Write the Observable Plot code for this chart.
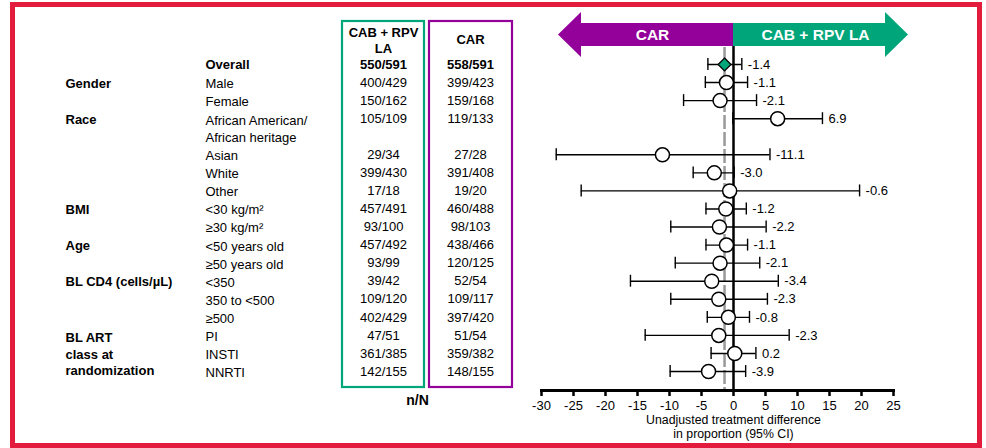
<!DOCTYPE html>
<html>
<head>
<meta charset="utf-8">
<script src="https://cdn.jsdelivr.net/npm/d3@7"></script>
<script src="https://cdn.jsdelivr.net/npm/@observablehq/plot@0.6"></script>
<style>
  html, body { margin: 0; padding: 0; background: #fff; }
  #wrap { position: relative; width: 986px; height: 448px; overflow: hidden; background: #fff; }
  #border { position: absolute; left: 10px; top: 2px; width: 972px; height: 446px; border: 5px solid #e31b3c; box-sizing: border-box; pointer-events: none; }
  svg { font-family: "Liberation Sans", Arial, sans-serif; }
</style>
</head>
<body>
<div id="wrap"><div id="chart"></div><div id="border"></div></div>
<script>
// ---- data ----
const subgroups = ["Overall", "Male", "Female", "African American/\nAfrican heritage", "Asian", "White", "Other",
  "<30 kg/m²", "≥30 kg/m²", "<50 years old", "≥50 years old", "<350", "350 to <500", "≥500", "PI", "INSTI", "NNRTI"];
const groups = ["", "Gender", "Gender", "Race", "Race", "Race", "Race", "BMI", "BMI", "Age", "Age",
  "BL CD4 (cells/µL)", "BL CD4 (cells/µL)", "BL CD4 (cells/µL)",
  "BL ART\nclass at\nrandomization", "BL ART\nclass at\nrandomization", "BL ART\nclass at\nrandomization"];
const cabCounts = ["550/591", "400/429", "150/162", "105/109", "29/34", "399/430", "17/18", "457/491", "93/100",
  "457/492", "93/99", "39/42", "109/120", "402/429", "47/51", "361/385", "142/155"];
const carCounts = ["558/591", "399/423", "159/168", "119/133", "27/28", "391/408", "19/20", "460/488", "98/103",
  "438/466", "120/125", "52/54", "109/117", "397/420", "51/54", "359/382", "148/155"];
const estimate = [-1.4, -1.1, -2.1, 6.9, -11.1, -3.0, -0.6, -1.2, -2.2, -1.1, -2.1, -3.4, -2.3, -0.8, -2.3, 0.2, -3.9];
const ciLow  = [-4.0, -4.4, -7.8, -0.1, -27.7, -6.3, -23.8, -4.3, -9.8, -4.3, -9.1, -16.1, -9.8, -4.1, -13.8, -3.5, -9.9];
const ciHigh = [1.3, 2.2, 3.6, 13.9, 5.7, 0.1, 19.7, 2.0, 5.1, 2.2, 4.1, 7.0, 5.3, 2.5, 8.7, 3.5, 1.9];
const xTicks = [-30, -25, -20, -15, -10, -5, 0, 5, 10, 15, 20, 25];
const colHeaders = ["CAB + RPV\nLA", "CAR"];
const arrowLabels = ["CAR", "CAB + RPV LA"];
const axisTitle = ["Unadjusted treatment difference", "in proportion (95% CI)"];
const countsLabel = "n/N";

// ---- build table (row = vertical slot, multi-line labels take extra slots) ----
let slot = 0;
const rows = subgroups.map((s, i) => {
  const lines = s.split("\n").length;
  const r = {i, sub: s, lines, group: groups[i], cab: cabCounts[i], car: carCounts[i],
    est: estimate[i], lo: ciLow[i], hi: ciHigh[i], row: slot};
  slot += lines;
  return r;
});
const groupLabels = [];
for (const r of rows) {
  if (!r.group) continue;
  const g = groupLabels.find(d => d.text === r.group);
  if (g) g.last = r.row; else groupLabels.push({text: r.group, first: r.row, last: r.row});
}
groupLabels.forEach(g => { const n = g.text.split("\n").length; g.y = n > 1 ? (g.first + g.last) / 2 : g.first; });

// ---- layout ----
const W = 986, H = 448, ML = 541, MR = 93, MB = 58;
const green = "#00a67a", purple = "#94009a";
const pxPerUnit = (W - ML - MR) / 55;
const px2x = p => (p - ML) / pxPerUnit - 30;
const rowTop = 64, rowStep = 18.06;
const px2row = p => (p - rowTop) / rowStep;
const colGroup = 65 - ML, colSub = 205 - ML, colCab = 383 - ML, colCar = 470 - ML;

const cy = px2row(34.5), hh = 22.5 / rowStep, bh = 11.5 / rowStep;
const tip = px2x(908), hb = px2x(885);
const carArrow = [{x: -tip, y1: cy, y2: cy}, {x: -hb, y1: cy - hh, y2: cy + hh}, {x: -hb, y1: cy - bh, y2: cy + bh}, {x: 0, y1: cy - bh, y2: cy + bh}];
const cabArrow = [{x: 0, y1: cy - bh, y2: cy + bh}, {x: hb, y1: cy - bh, y2: cy + bh}, {x: hb, y1: cy - hh, y2: cy + hh}, {x: tip, y1: cy, y2: cy}];
const boxes = [
  {x1: px2x(342), x2: px2x(424), stroke: green},
  {x1: px2x(429), x2: px2x(512), stroke: purple}
];
const boxY1 = px2row(21), boxY2 = px2row(387);

const overall = rows.filter(d => d.i === 0);
const others = rows.filter(d => d.i !== 0);
const fmt = v => v.toFixed(1);

const chart = Plot.plot({
  width: W, height: H,
  marginLeft: ML, marginRight: MR, marginTop: 0, marginBottom: MB,
  x: {domain: [-30, 25]},
  y: {domain: [0, 17], range: [rowTop, rowTop + 17 * rowStep], axis: null},
  style: {fontFamily: "'Liberation Sans', Arial, sans-serif", fontSize: "13px", overflow: "visible", background: "#fff", color: "#000"},
  marks: [
    // column boxes
    Plot.rect(boxes, {x1: "x1", x2: "x2", y1: () => boxY1, y2: () => boxY2, fill: "none", stroke: "stroke", strokeWidth: 2.2}),
    // direction arrows
    Plot.areaY(carArrow, {x: "x", y1: "y1", y2: "y2", fill: purple, curve: "linear"}),
    Plot.areaY(cabArrow, {x: "x", y1: "y1", y2: "y2", fill: green, curve: "linear"}),
    Plot.text([arrowLabels[0]], {x: () => px2x(652), y: () => cy, text: d => d, fill: "white", fontWeight: "bold", fontSize: 15.5}),
    Plot.text([arrowLabels[1]], {x: () => px2x(815), y: () => cy, text: d => d, fill: "white", fontWeight: "bold", fontSize: 15.5}),
    // reference lines
    Plot.ruleX([estimate[0]], {insetTop: 47, stroke: "#999", strokeWidth: 2.5, strokeDasharray: "14,3"}),
    Plot.ruleX([0], {insetTop: 46, stroke: "#000", strokeWidth: 2.5}),
    // confidence intervals
    Plot.ruleY(rows, {y: "row", x1: "lo", x2: "hi", stroke: "#000", strokeWidth: 1.4}),
    Plot.ruleX(rows, {x: "lo", y1: d => d.row - 0.33, y2: d => d.row + 0.33, stroke: "#000", strokeWidth: 1.4}),
    Plot.ruleX(rows, {x: "hi", y1: d => d.row - 0.33, y2: d => d.row + 0.33, stroke: "#000", strokeWidth: 1.4}),
    // point estimates
    Plot.dot(others, {x: "est", y: "row", r: 7, fill: "white", stroke: "#000", strokeWidth: 1.5}),
    Plot.dot(overall, {x: "est", y: "row", r: 5.8, symbol: "diamond2", fill: green, stroke: "#000", strokeWidth: 1.3}),
    Plot.text(rows, {x: "hi", y: "row", text: d => fmt(d.est), dx: 6, textAnchor: "start", fontSize: 13}),
    // axis
    Plot.frame({anchor: "bottom", stroke: "#000", strokeWidth: 3}),
    Plot.axisX({ticks: xTicks, tickFormat: d => String(d), tickSize: 6, tickPadding: 4, strokeWidth: 2.5, fontSize: 13, label: null}),
    Plot.text(axisTitle.slice(0, 1), {x: () => 0, frameAnchor: "bottom", dy: 29.5, lineAnchor: "middle", text: d => d, fontSize: 12.3}),
    Plot.text(axisTitle.slice(1), {x: () => 0, frameAnchor: "bottom", dy: 43.5, lineAnchor: "middle", text: d => d, fontSize: 12.3}),
    // table
    Plot.text(colHeaders.slice(0, 1), {frameAnchor: "top-left", dx: colCab, dy: 39.5, textAnchor: "middle", lineAnchor: "middle", lineHeight: 1.2, text: d => d, fontWeight: "bold", fontSize: 13}),
    Plot.text(colHeaders.slice(1), {frameAnchor: "top-left", dx: colCar, dy: 39.5, textAnchor: "middle", lineAnchor: "middle", text: d => d, fontWeight: "bold", fontSize: 13}),
    Plot.text([countsLabel], {frameAnchor: "bottom-left", dx: 417 - ML, dy: 10, textAnchor: "middle", lineAnchor: "middle", text: d => d, fontWeight: "bold", fontSize: 14}),
    Plot.text(groupLabels, {y: "y", text: "text", frameAnchor: "left", dx: colGroup, textAnchor: "start", lineAnchor: "middle", lineHeight: 1.25, fontWeight: "bold", fontSize: 13}),
    Plot.text(others, {y: d => d.row + (d.lines - 1) / 2, text: "sub", frameAnchor: "left", dx: colSub, textAnchor: "start", lineAnchor: "middle", lineHeight: 1.3, fontSize: 13}),
    Plot.text(overall, {y: "row", text: "sub", frameAnchor: "left", dx: colSub, textAnchor: "start", lineAnchor: "middle", fontWeight: "bold", fontSize: 13}),
    Plot.text(others, {y: "row", text: "cab", frameAnchor: "left", dx: colCab, textAnchor: "middle", lineAnchor: "middle", fontSize: 13}),
    Plot.text(others, {y: "row", text: "car", frameAnchor: "left", dx: colCar, textAnchor: "middle", lineAnchor: "middle", fontSize: 13}),
    Plot.text(overall, {y: "row", text: "cab", frameAnchor: "left", dx: colCab, textAnchor: "middle", lineAnchor: "middle", fontWeight: "bold", fontSize: 13}),
    Plot.text(overall, {y: "row", text: "car", frameAnchor: "left", dx: colCar, textAnchor: "middle", lineAnchor: "middle", fontWeight: "bold", fontSize: 13})
  ]
});
document.getElementById("chart").appendChild(chart);
</script>
</body>
</html>
